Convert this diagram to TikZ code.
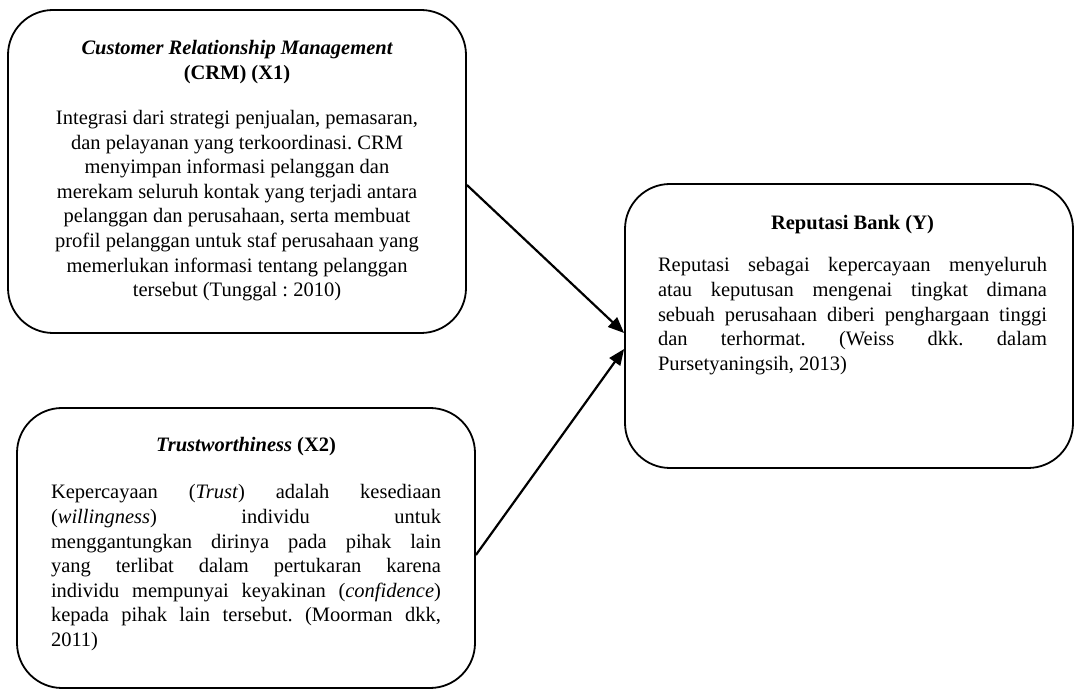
\documentclass[tikz,border=0pt]{standalone}
\usepackage{fontspec}
\setmainfont{Liberation Serif}
\usetikzlibrary{arrows.meta}
\frenchspacing
\newcommand\bodyfont{\fontsize{20.5}{24.6}\selectfont}
\begin{document}
\begin{tikzpicture}[x=1pt,y=1pt,
  panel/.style={draw, line width=1.8pt, rounded corners=45pt, inner sep=0pt},
  txt/.style={anchor=base, inner sep=0pt},
  link/.style={line width=2.2pt, -{Triangle[length=16pt,width=13pt]}}]
\useasboundingbox (0,0) rectangle (1075,690);
\node[panel, minimum width=458pt, minimum height=323pt] (b1) at (237,518.5) {};
\node[panel, minimum width=458pt, minimum height=280pt] (b2) at (246,142) {};
\node[panel, minimum width=448pt, minimum height=284pt] (b3) at (849,364) {};

\node[txt] (t1) at (237,635) {\begin{minipage}[t]{440pt}\centering\bodyfont\frenchspacing
{\bfseries\itshape Customer Relationship Management}\\
{\bfseries (CRM) (X1)}\\[20.4pt]
Integrasi dari strategi penjualan, pemasaran,\\
dan pelayanan yang terkoordinasi. CRM\\
menyimpan informasi pelanggan dan\\
merekam seluruh kontak yang terjadi antara\\
pelanggan dan perusahaan, serta membuat\\
profil pelanggan untuk staf perusahaan yang\\
memerlukan informasi tentang pelanggan\\
tersebut (Tunggal : 2010)
\end{minipage}};

\node[txt] (t2) at (246,238) {\begin{minipage}[t]{390pt}\bodyfont\frenchspacing
{\centering\textbf{\textit{Trustworthiness} (X2)}\par}
\vspace{22.4pt}
Kepercayaan (\textit{Trust}) adalah kesediaan\linebreak
(\textit{willingness}) individu untuk\linebreak
menggantungkan dirinya pada pihak lain\linebreak
yang terlibat dalam pertukaran karena\linebreak
individu mempunyai keyakinan (\textit{confidence})\linebreak
kepada pihak lain tersebut. (Moorman dkk,\linebreak
2011)
\end{minipage}};

\node[txt] (t3) at (852.5,460) {\begin{minipage}[t]{389pt}\bodyfont\frenchspacing
{\centering\textbf{Reputasi Bank (Y)}\par}
\vspace{17.4pt}
Reputasi sebagai kepercayaan menyeluruh\linebreak
atau keputusan mengenai tingkat dimana\linebreak
sebuah perusahaan diberi penghargaan tinggi\linebreak
dan terhormat. (Weiss dkk. dalam\linebreak
Pursetyaningsih, 2013)
\end{minipage}};

\draw[link] ([yshift=-13.5pt]b1.east) -- ([yshift=-7pt]b3.west);
\draw[link] ([yshift=-7pt]b2.east) -- ([yshift=-23pt]b3.west);
\end{tikzpicture}
\end{document}
